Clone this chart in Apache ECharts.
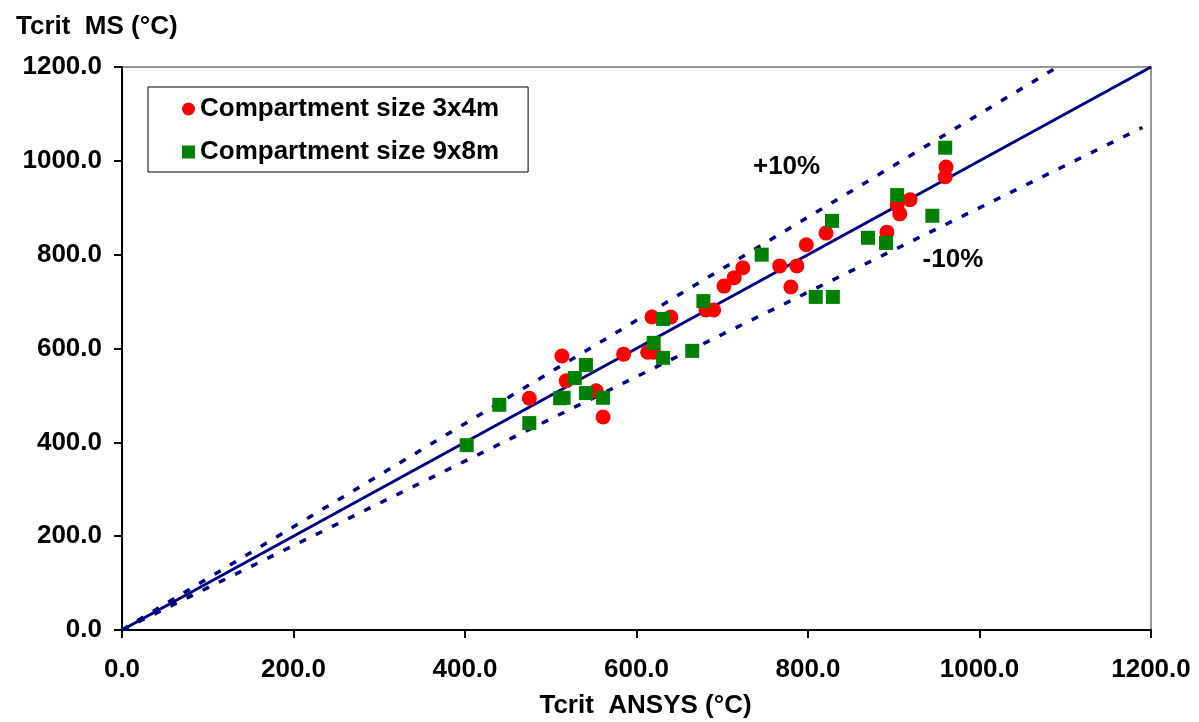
<!DOCTYPE html>
<html><head><meta charset="utf-8">
<script src="https://cdn.jsdelivr.net/npm/echarts@6/dist/echarts.min.js"></script>
<style>html,body{margin:0;padding:0;background:#fff}#c{width:1199px;height:722px}</style>
</head><body><div id="c"></div>
<script>
// Compartment size 3x4m (red circles): [Tcrit ANSYS, Tcrit MS]
const small3x4 = [
  [475,494],[513,584],[518,531],[553,510],[561,454],[585,588],[613,592],[620,592],
  [618,667],[640,667],[681,682],[690,682],[702,733],[714,751],[724,772],[767,776],
  [787,776],[780,731],[798,821],[821,846],[892,848],[904,906],[907,887],[919,917],
  [961,987],[960,966]
];
// Compartment size 9x8m (green squares)
const large9x8 = [
  [402,394],[440,480],[475,441],[511,494],[515,495],[528,537],[541,565],[541,505],
  [561,495],[620,612],[631,580],[665,595],[631,663],[678,701],[746,800],[809,710],
  [829,710],[828,872],[870,836],[891,825],[904,927],[945,883],[960,1028]
];
const seriesNames = ['Compartment size 3x4m', 'Compartment size 9x8m'];
const equalLine = [[0,0],[1200,1200]];
const plus10Line = [[0,0],[1091,1200]];
const minus10Line = [[0,0],[1190,1071]];
const bandLabels = [{name:'+10%', value:[775,987]}, {name:'-10%', value:[969,789]}];
const axisTicks = {min:0, max:1200, interval:200};
const xTitle = 'Tcrit  ANSYS (°C)';
const yTitle = 'Tcrit  MS (°C)';

const FONT = 'Liberation Sans, Arial, sans-serif';
const FS = 26;
const navy = '#000080';
const chart = echarts.init(document.getElementById('c'), null, {renderer:'canvas'});
const axisCommon = {
  type:'value', min:axisTicks.min, max:axisTicks.max, interval:axisTicks.interval,
  axisLine:{show:true, onZero:false, lineStyle:{color:'#000', width:2}},
  axisTick:{show:true, inside:false, length:8, lineStyle:{color:'#000', width:2}},
  splitLine:{show:false},
  axisLabel:{formatter:v=>v.toFixed(1), color:'#000', fontWeight:'bold', fontSize:FS, fontFamily:FONT}
};
chart.setOption({
  backgroundColor:'#fff',
  animation:false,
  title:{text:yTitle, left:11, top:9, textStyle:{fontSize:FS, fontWeight:'bold', color:'#000', fontFamily:FONT}},
  grid:{left:122, right:48, top:67, bottom:92, containLabel:false, outerBoundsMode:'none',
    show:true, borderColor:'#969696', borderWidth:2, backgroundColor:'transparent'},
  legend:{
    data:seriesNames, orient:'vertical', left:148, top:87,
    borderColor:'#000', borderWidth:1, borderRadius:0, backgroundColor:'#fff',
    padding:[7,29,5,34], itemGap:13, itemWidth:13, itemHeight:13,
    textStyle:{fontSize:FS, fontWeight:'bold', color:'#000', fontFamily:FONT, lineHeight:30}
  },
  xAxis:Object.assign({}, axisCommon, {
    name:xTitle, nameLocation:'middle', nameGap:63,
    nameTextStyle:{fontSize:FS, fontWeight:'bold', color:'#000', fontFamily:FONT, padding:[0,0,0,18]},
    axisLabel:Object.assign({}, axisCommon.axisLabel, {margin:27})
  }),
  yAxis:Object.assign({}, axisCommon, {
    axisLabel:Object.assign({}, axisCommon.axisLabel, {margin:20})
  }),
  series:[
    {type:'line', data:equalLine, showSymbol:false, silent:true, lineStyle:{color:navy, width:3}, z:1},
    {type:'line', data:plus10Line, showSymbol:false, silent:true, lineStyle:{color:navy, width:3.5, type:[7,11]}, z:1},
    {type:'line', data:minus10Line, showSymbol:false, silent:true, lineStyle:{color:navy, width:3.5, type:[7,11]}, z:1},
    {type:'scatter', data:bandLabels, symbolSize:0, silent:true, itemStyle:{opacity:1},
      label:{show:true, position:'inside', formatter:p=>p.name, fontSize:FS, fontWeight:'bold', color:'#000', fontFamily:FONT}},
    {name:seriesNames[0], type:'scatter', data:small3x4, symbol:'circle', symbolSize:15, itemStyle:{color:'#FF0000', opacity:1}, z:3},
    {name:seriesNames[1], type:'scatter', data:large9x8, symbol:'rect', symbolSize:14, itemStyle:{color:'#008000', opacity:1}, z:3}
  ]
});
</script></body></html>
